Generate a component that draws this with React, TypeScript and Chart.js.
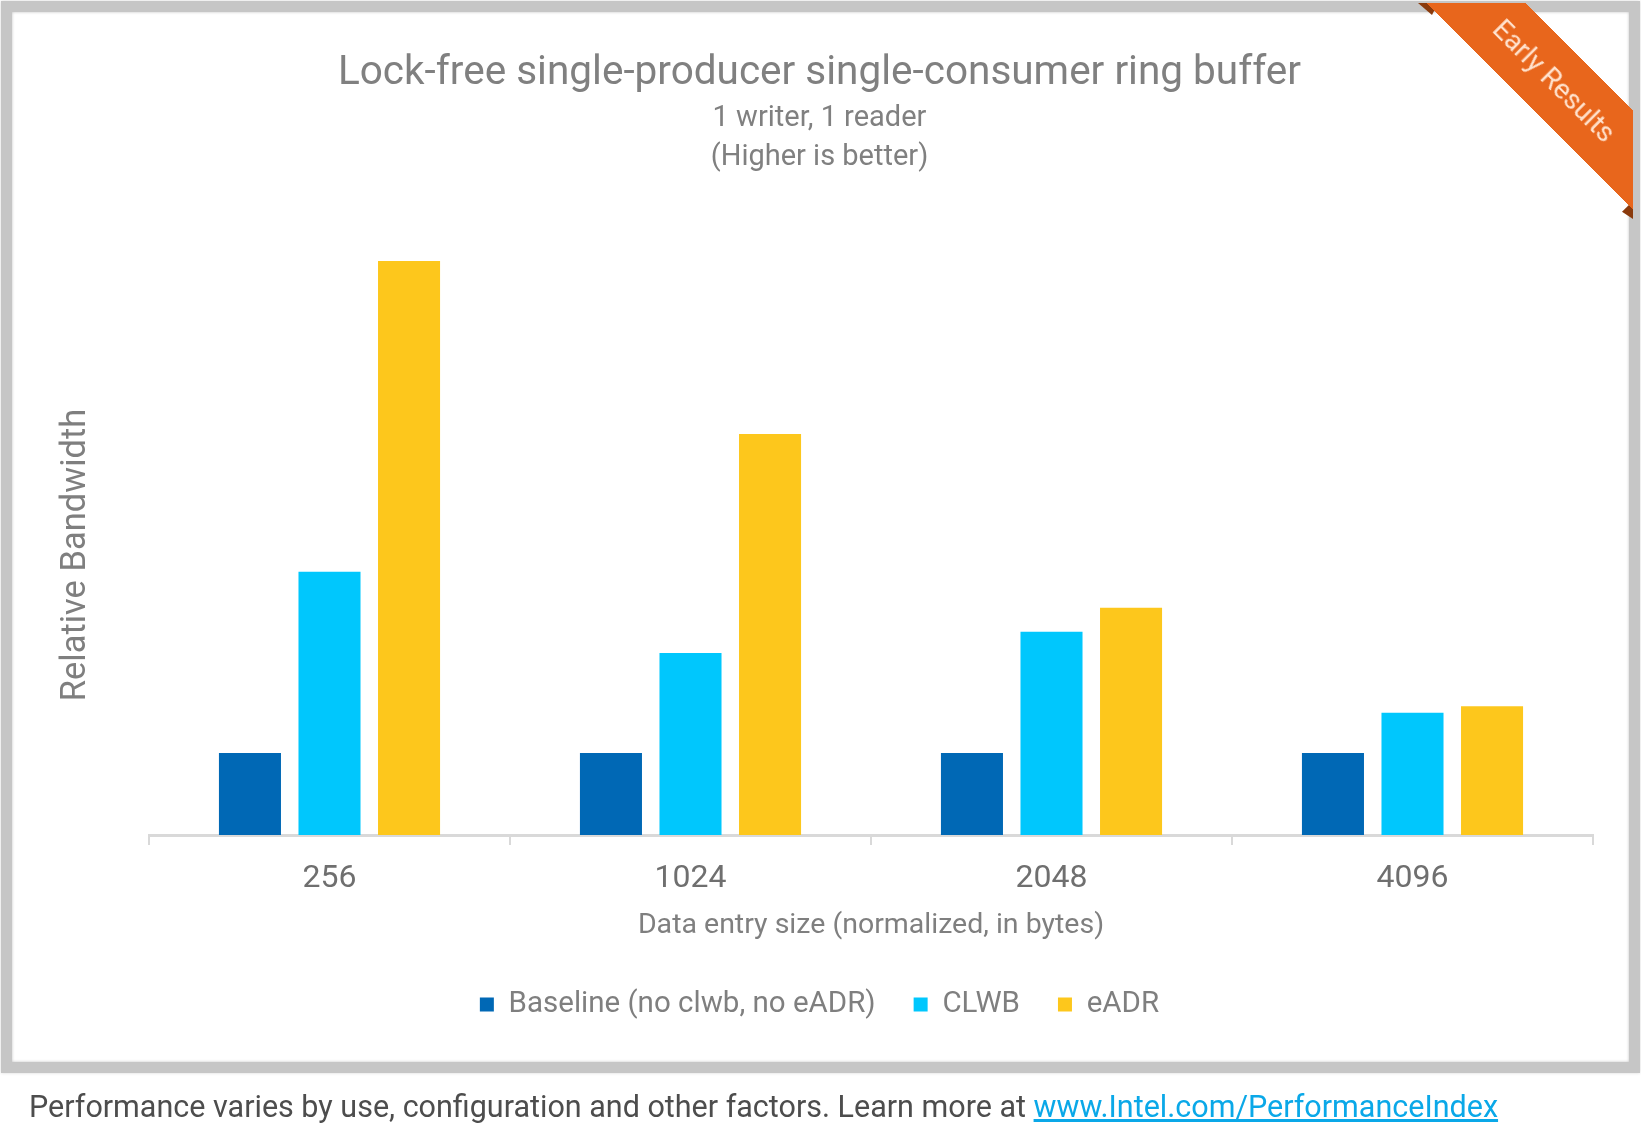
import React, { useEffect, useRef } from 'react';
import { Chart, registerables } from 'chart.js';

Chart.register(...registerables);

const categories = ['256', '1024', '2048', '4096'];
const seriesLabels = ['Baseline (no clwb, no eADR)', 'CLWB', 'eADR'];
const baselineValues = [1, 1, 1, 1];
const clwbValues = [3.21, 2.22, 2.48, 1.49];
const eadrValues = [7.0, 4.89, 2.77, 1.57];
const seriesColors = ['#0068B5', '#00C7FD', '#FDC71C'];
const titleText = 'Lock-free single-producer single-consumer ring buffer';
const subtitleLines = ['1 writer, 1 reader', '(Higher is better)'];
const xAxisTitle = 'Data entry size (normalized, in bytes)';
const yAxisTitle = 'Relative Bandwidth';
const ribbonText = 'Early Results';
const footerText = 'Performance varies by use, configuration and other factors. Learn more at ';
const footerLink = 'www.Intel.com/PerformanceIndex';

const FONT = 'Roboto, "Noto Sans", sans-serif';
const W = 1641;
const H = 1141;
const PAD_LEFT = 46;

export default function App() {
  const canvasRef = useRef<HTMLCanvasElement | null>(null);

  useEffect(() => {
    const canvas = canvasRef.current;
    if (!canvas) return;
    Chart.defaults.font.family = FONT;
    const chart = new Chart(canvas, {
      type: 'bar',
      data: {
        labels: categories,
        datasets: [
          { label: seriesLabels[0], data: baselineValues, backgroundColor: seriesColors[0], borderWidth: 0 },
          { label: seriesLabels[1], data: clwbValues, backgroundColor: seriesColors[1], borderWidth: 0 },
          { label: seriesLabels[2], data: eadrValues, backgroundColor: seriesColors[2], borderWidth: 0 },
        ],
      },
      options: {
        responsive: false,
        animation: false,
        devicePixelRatio: 1,
        datasets: { bar: { categoryPercentage: 0.661, barPercentage: 0.78 } },
        layout: { padding: { left: PAD_LEFT, right: 48, top: 0, bottom: 111.65 } },
        plugins: {
          title: {
            display: true,
            text: titleText,
            color: '#808080',
            font: { size: 40.5, weight: 'normal', lineHeight: 1.2 },
            padding: { top: 49.7, bottom: 0 },
          },
          subtitle: {
            display: true,
            text: subtitleLines,
            color: '#808080',
            font: { size: 29, weight: 'normal', lineHeight: 39 / 29 },
            padding: { top: 1.2, bottom: 1.5 },
          },
          legend: {
            position: 'bottom',
            labels: {
              boxWidth: 14,
              boxHeight: 14,
              padding: 38,
              color: '#7f7f7f',
              font: { size: 29.5 },
            },
          },
          tooltip: { enabled: false },
        },
        scales: {
          x: {
            grid: {
              display: true,
              drawOnChartArea: false,
              drawTicks: true,
              tickLength: 10,
              color: '#d9d9d9',
              lineWidth: 2,
              offset: true,
            },
            border: { display: true, color: '#d9d9d9', width: 3 },
            ticks: { color: '#6f6f6f', font: { size: 32, lineHeight: 1.0 }, padding: 18 },
            title: {
              display: true,
              text: xAxisTitle,
              color: '#7f7f7f',
              font: { size: 28.5, lineHeight: 1.0 },
              padding: { top: -1.25, bottom: 11.6 },
            },
          },
          y: {
            min: 0,
            max: 8,
            display: true,
            ticks: { display: false },
            grid: { display: false },
            border: { display: false },
            afterFit: (scale: any) => {
              scale.width = 149 - PAD_LEFT;
            },
          },
        },
      } as any,
    });
    return () => chart.destroy();
  }, []);

  return (
    <div style={{ position: 'absolute', left: 0, top: 0, width: W, height: H, overflow: 'hidden', background: '#fff', fontFamily: FONT }}>
      <div
        style={{
          position: 'absolute',
          left: 1,
          top: 1,
          width: 1639,
          height: 1072,
          boxSizing: 'border-box',
          border: '11px solid #c6c6c6',
          boxShadow: '0 0 3px #d8d8d8, inset 0 0 3px rgba(0,0,0,0.25)',
          background: '#fff',
        }}
      />
      <canvas
        ref={canvasRef}
        width={W}
        height={H}
        style={{ position: 'absolute', left: 0, top: 0, width: W, height: H, display: 'block' }}
      />
      <div
        style={{
          position: 'absolute',
          left: 73,
          top: 555,
          transform: 'translate(-50%, -50%) rotate(-90deg)',
          whiteSpace: 'nowrap',
          fontSize: 34.5,
          color: '#7f7f7f',
          lineHeight: '40px',
        }}
      >
        {yAxisTitle}
      </div>
      <div
        style={{
          position: 'absolute',
          left: 0,
          top: 0,
          width: W,
          height: H,
          pointerEvents: 'none',
        }}
      >
        <div
          style={{
            position: 'absolute',
            left: 1418,
            top: 3,
            width: 20,
            height: 12,
            background: '#8a3a0c',
            clipPath: 'polygon(0 0, 100% 0, 70% 100%)',
          }}
        />
        <div
          style={{
            position: 'absolute',
            left: 1622,
            top: 201,
            width: 11,
            height: 18,
            background: '#8a3a0c',
            clipPath: 'polygon(100% 0, 100% 100%, 0 60%)',
          }}
        />
      </div>
      <div style={{ position: 'absolute', left: 1380, top: 3, width: 253, height: 260, overflow: 'hidden' }}>
        <div
          style={{
            position: 'absolute',
            left: 174 - 260,
            top: 78 - 35,
            width: 520,
            height: 70,
            background: '#E8661C',
            color: '#FFE3CF',
            transform: 'rotate(45deg)',
            textAlign: 'center',
            lineHeight: '70px',
            fontSize: 28,
            whiteSpace: 'nowrap',
          }}
        >
          {ribbonText}
        </div>
      </div>
      <div
        style={{
          position: 'absolute',
          left: 29,
          top: 1089,
          fontSize: 30.5,
          lineHeight: '36px',
          color: '#4d4d4d',
          whiteSpace: 'nowrap',
        }}
      >
        {footerText}
        <span style={{ color: '#0aa8e8', textDecoration: 'underline' }}>{footerLink}</span>
      </div>
    </div>
  );
}
